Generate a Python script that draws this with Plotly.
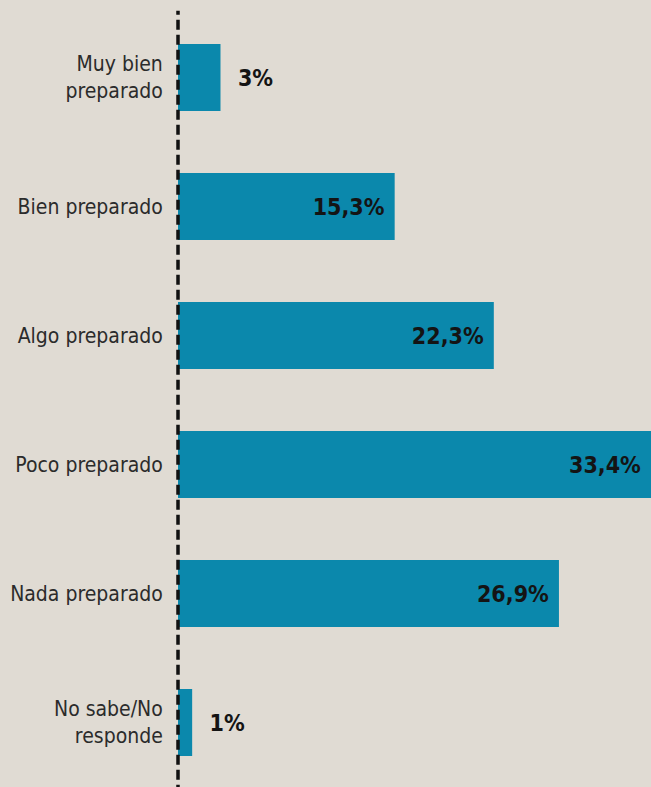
import plotly.graph_objects as go

categories = ["Muy bien<br>preparado", "Bien preparado", "Algo preparado",
              "Poco preparado", "Nada preparado", "No sabe/No<br>responde"]
values = [3, 15.3, 22.3, 33.4, 26.9, 1]

labels = [(f"{v:g}".replace(".", ",") + "%") for v in values]
positions = ["outside" if v < 5 else "inside" for v in values]
texts = [("  " + t) if p == "outside" else t + " " for t, p in zip(labels, positions)]

BG = "#e0dbd3"
BAR = "#0b88ac"

fig = go.Figure(go.Bar(
    x=values, y=categories, orientation="h",
    marker=dict(color=BAR, line=dict(width=0)),
    text=texts, textposition=positions, insidetextanchor="end",
    textfont=dict(family="DejaVu Sans Condensed", size=23, color="#141414", weight="bold"),
    cliponaxis=False,
))

fig.add_shape(type="line", xref="paper", yref="paper", x0=0, x1=0, y0=-0.01, y1=1.003,
              layer="above", line=dict(color="#111111", width=3.5, dash="10px,5px"))

fig.update_layout(
    width=651, height=787,
    margin=dict(l=178, r=0, t=13, b=0),
    paper_bgcolor=BG, plot_bgcolor=BG,
    bargap=0.48,
    showlegend=False,
    xaxis=dict(range=[0, 33.4], visible=False, fixedrange=True, automargin=False),
    yaxis=dict(autorange="reversed", showgrid=False, zeroline=False, showline=False,
               automargin=False, fixedrange=True,
               ticks="outside", ticklen=10, tickcolor="rgba(0,0,0,0)",
               tickfont=dict(family="DejaVu Sans Condensed", size=21, color="#2b2b2b")),
)

fig.write_html("out.html", config={"displayModeBar": False},
               post_script="document.body.style.margin='0';")
